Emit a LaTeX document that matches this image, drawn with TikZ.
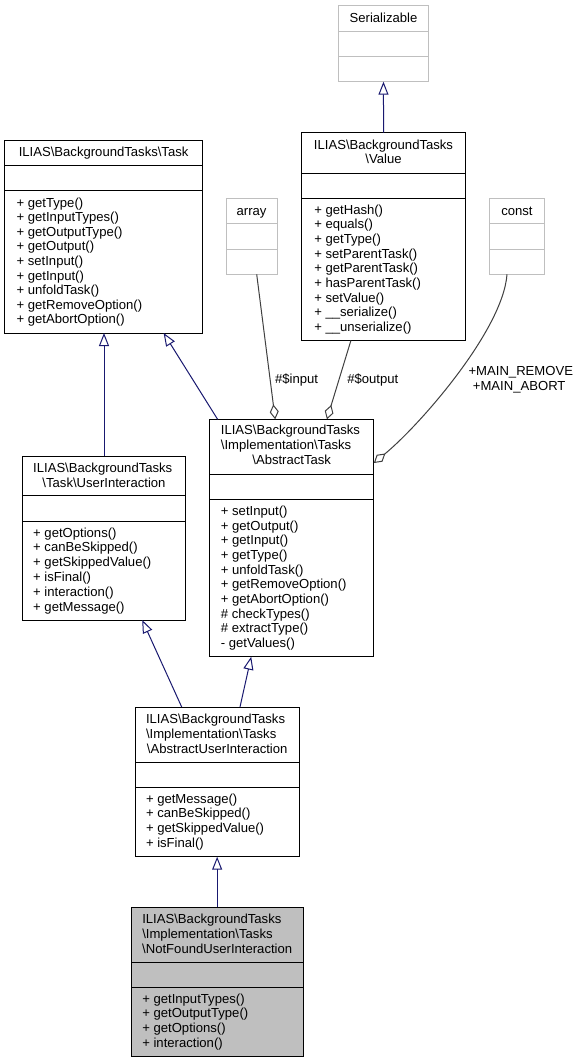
\documentclass[tikz,border=0pt]{standalone}
\usepackage{fontspec}
\setmainfont{Liberation Sans}
\usetikzlibrary{arrows.meta,calc,fit}
\definecolor{genc}{HTML}{191970}
\definecolor{aggc}{HTML}{404040}
\definecolor{lgray}{HTML}{BFBFBF}
\newcommand\dv[3]{\draw[divl,#3] ($(#1.north west)+(0,#2)$) -- ($(#1.north east)+(0,#2)$);}
\newcommand\bs{\textbackslash}
\begin{document}
\begin{tikzpicture}[x=1pt,y=-1pt,
  txt/.style={inner sep=0pt, outer sep=0pt, font=\fontsize{13.1}{14.7}\selectfont},
  cls/.style={draw=black, line width=1pt, inner sep=0pt, outer sep=0pt, fill=white},
  clsg/.style={cls, draw=lgray},
  clsf/.style={cls, fill=lgray},
  divl/.style={line width=1pt},
  gen/.style={draw=genc, line width=1pt, -{Triangle[open, length=13pt, width=10pt]}},
  agg/.style={draw=aggc, line width=1pt, -{Diamond[open, length=15pt, width=9pt]}}]
\fill[white] (0,0) rectangle (580,1063);
\useasboundingbox (0,0) rectangle (580,1063);

% boxes
\node[clsg, fit={(338.7,5.7) (428.2,81.7)}] (ser) {};
\dv{ser}{25.6}{lgray}\dv{ser}{51}{lgray}
\node[cls, fit={(301.5,132.7) (465.6,340.5)}] (val) {};
\dv{val}{40.3}{black}\dv{val}{65.3}{black}
\node[cls, fit={(4.8,140) (202.4,333)}] (task) {};
\dv{task}{25}{black}\dv{task}{50.7}{black}
\node[clsg, fit={(226.1,198.7) (277.1,274.3)}] (arr) {};
\dv{arr}{25}{lgray}\dv{arr}{50.3}{lgray}
\node[clsg, fit={(489.3,198.7) (544.5,274.3)}] (cons) {};
\dv{cons}{25}{lgray}\dv{cons}{50.3}{lgray}
\node[cls, fit={(22.2,456) (185.8,620)}] (ui) {};
\dv{ui}{39.7}{black}\dv{ui}{65.7}{black}
\node[cls, fit={(209.5,419.3) (373.8,656.7)}] (at) {};
\dv{at}{54.7}{black}\dv{at}{80}{black}
\node[cls, fit={(135,707) (299.3,856.7)}] (aui) {};
\dv{aui}{55}{black}\dv{aui}{80.3}{black}
\node[clsf, fit={(131,907) (303.3,1056.7)}] (nf) {};
\dv{nf}{55}{black}\dv{nf}{80.3}{black}

% titles
\node[txt, anchor=base] (ser-t) at (383.5,22.2) {Serializable};
\node[txt, anchor=base] (val-t1) at (383.5,149) {ILIAS\bs BackgroundTasks};
\node[txt, anchor=base] (val-t2) at (383.5,163.2) {\bs Value};
\node[txt, anchor=base] (task-t) at (103.6,156.4) {ILIAS\bs BackgroundTasks\bs Task};
\node[txt, anchor=base] (arr-t) at (251.6,215.4) {array};
\node[txt, anchor=base] (cons-t) at (516.9,215.4) {const};
\node[txt, anchor=base west] (at-t1) at (220.9,434.7) {ILIAS\bs BackgroundTasks};
\node[txt, anchor=base west] (at-t2) at (220.9,449.5) {\bs Implementation\bs Tasks};
\node[txt, anchor=base] (at-t3) at (291.7,464.3) {\bs AbstractTask};
\node[txt, anchor=base west] (ui-t1) at (33.2,472) {ILIAS\bs BackgroundTasks};
\node[txt, anchor=base] (ui-t2) at (104,487) {\bs Task\bs UserInteraction};
\node[txt, anchor=base west] (aui-t1) at (146,723) {ILIAS\bs BackgroundTasks};
\node[txt, anchor=base west] (aui-t2) at (146,738) {\bs Implementation\bs Tasks};
\node[txt, anchor=base] (aui-t3) at (217.2,753) {\bs AbstractUserInteraction};
\node[txt, anchor=base west] (nf-t1) at (142.3,923) {ILIAS\bs BackgroundTasks};
\node[txt, anchor=base west] (nf-t2) at (142.3,938) {\bs Implementation\bs Tasks};
\node[txt, anchor=base] (nf-t3) at (217.2,953) {\bs NotFoundUserInteraction};

% methods
\foreach \m [count=\i from 0] in {{+ getHash()},{+ equals()},{+ getType()},{+ setParentTask()},{+ getParentTask()},{+ hasParentTask()},{+ setValue()},{+ \_\_serialize()},{+ \_\_unserialize()}}
  {\node[txt, anchor=base west] (val-m\i) at (314.3,214+14.67*\i) {\m};}
\foreach \m [count=\i from 0] in {{+ getType()},{+ getInputTypes()},{+ getOutputType()},{+ getOutput()},{+ setInput()},{+ getInput()},{+ unfoldTask()},{+ getRemoveOption()},{+ getAbortOption()}}
  {\node[txt, anchor=base west] (task-m\i) at (16.6,207+14.62*\i) {\m};}
\foreach \m [count=\i from 0] in {{+ setInput()},{+ getOutput()},{+ getInput()},{+ getType()},{+ unfoldTask()},{+ getRemoveOption()},{+ getAbortOption()},{\# checkTypes()},{\# extractType()},{- getValues()}}
  {\node[txt, anchor=base west] (at-m\i) at (220.9,515.4+14.67*\i) {\m};}
\foreach \m [count=\i from 0] in {{+ getOptions()},{+ canBeSkipped()},{+ getSkippedValue()},{+ isFinal()},{+ interaction()},{+ getMessage()}}
  {\node[txt, anchor=base west] (ui-m\i) at (33.2,537+14.8*\i) {\m};}
\foreach \m [count=\i from 0] in {{+ getMessage()},{+ canBeSkipped()},{+ getSkippedValue()},{+ isFinal()}}
  {\node[txt, anchor=base west] (aui-m\i) at (146,803+14.9*\i) {\m};}
\foreach \m [count=\i from 0] in {{+ getInputTypes()},{+ getOutputType()},{+ getOptions()},{+ interaction()}}
  {\node[txt, anchor=base west] (nf-m\i) at (142.3,1003+14.67*\i) {\m};}

% edges
\draw[gen] (val.north) -- (ser.south);
\draw[gen] (ui.north) -- (ui.north |- task.south);
\draw[gen] ($(at.north west)+(8.1,0)$) -- ($(task.south west)+(158.8,0)$);
\draw[agg] ($(arr.south west)+(30.6,0)$) -- ($(at.north west)+(65.7,0)$);
\draw[agg] ($(val.south west)+(49.4,0)$) -- ($(at.north west)+(117.4,0)$);
\draw[agg] ($(cons.south west)+(17.7,0)$) .. controls (503,330) and (420,425) .. ($(at.north east)+(0,43.7)$);
\draw[gen] ($(aui.north west)+(46.7,0)$) -- ($(ui.south west)+(120,0)$);
\draw[gen] ($(aui.north west)+(105,0)$) -- ($(at.south west)+(41.7,0)$);
\draw[gen] (nf.north) -- (aui.south);

% labels
\node[txt, anchor=base] (lin) at (296.6,383) {\#\$input};
\node[txt, anchor=base] (lout) at (372.8,383) {\#\$output};
\node[txt, anchor=base] (lrem) at (520.8,375.4) {+MAIN\_REMOVE};
\node[txt, anchor=base] (labt) at (519.2,390.4) {+MAIN\_ABORT};
\end{tikzpicture}
\end{document}
